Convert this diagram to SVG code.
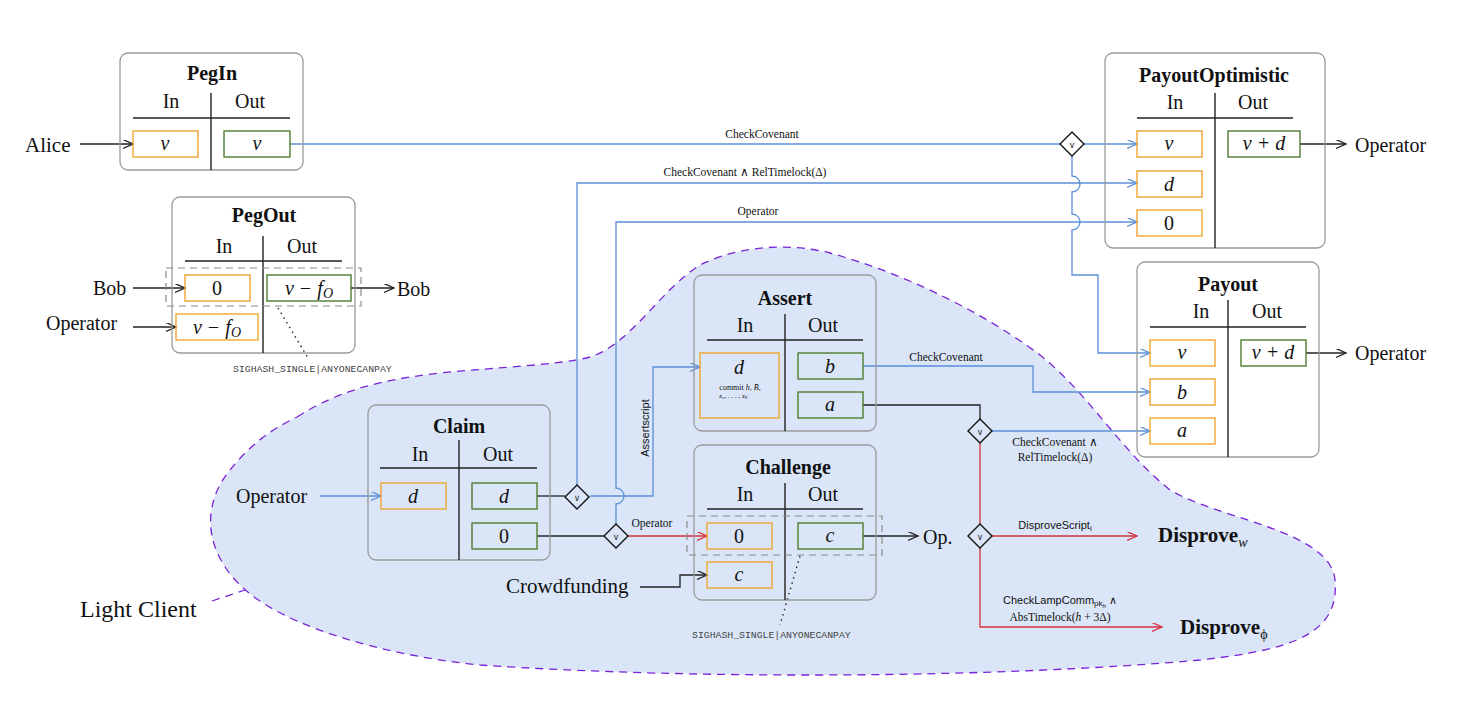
<svg xmlns="http://www.w3.org/2000/svg" width="1482" height="712" viewBox="0 0 1482 712">
<defs>
<style>
.box{fill:none;stroke:#9a9a9a;stroke-width:1.3}
.sep{stroke:#222;stroke-width:1.4;fill:none}
.in{fill:none;stroke:#f0a530;stroke-width:1.4}
.out{fill:none;stroke:#4e7d2e;stroke-width:1.4}
.dash{fill:none;stroke:#8a8a8a;stroke-width:1.2;stroke-dasharray:7 5}
.t{font-family:"Liberation Serif",serif;fill:#111}
.title{font-family:"Liberation Serif",serif;font-weight:bold;font-size:20px;text-anchor:middle;fill:#111}
.hd{font-family:"Liberation Serif",serif;font-size:20px;text-anchor:middle;fill:#111}
.m{font-family:"Liberation Serif",serif;font-style:italic;font-size:20px;text-anchor:middle;fill:#111}
.n{font-family:"Liberation Serif",serif;font-size:20px;text-anchor:middle;fill:#111}
.lbl{font-family:"Liberation Serif",serif;font-size:20px;fill:#111}
.sm{font-family:"Liberation Serif",serif;font-size:11.5px;text-anchor:middle;fill:#111}
.ss{font-family:"Liberation Sans",sans-serif;font-size:11px;text-anchor:middle;fill:#111}
.mono{font-family:"Liberation Mono",monospace;font-size:9.8px;fill:#444}
.cb{fill:none;stroke:#5b8fd8;stroke-width:1.3}
.ck{fill:none;stroke:#222;stroke-width:1.3}
.cr{fill:none;stroke:#d8303e;stroke-width:1.3}
.dia{fill:none;stroke:#111;stroke-width:1.4}
.or{font-family:"DejaVu Sans",sans-serif;font-size:9px;text-anchor:middle;fill:#333}
</style>
<marker id="ab" markerWidth="12" markerHeight="10" refX="10" refY="4.5" orient="auto" markerUnits="userSpaceOnUse"><path d="M0,0 L10,4.5 L0,9" fill="none" stroke="#5b8fd8" stroke-width="1.3"/></marker>
<marker id="ak" markerWidth="12" markerHeight="10" refX="10" refY="4.5" orient="auto" markerUnits="userSpaceOnUse"><path d="M0,0 L10,4.5 L0,9" fill="none" stroke="#222" stroke-width="1.3"/></marker>
<marker id="ar" markerWidth="12" markerHeight="10" refX="10" refY="4.5" orient="auto" markerUnits="userSpaceOnUse"><path d="M0,0 L10,4.5 L0,9" fill="none" stroke="#d8303e" stroke-width="1.3"/></marker>
</defs>
<rect width="1482" height="712" fill="#ffffff"/>

<g id="lightclient">
<path d="M297 417 C340 390 380 380 440 373 C500 367 560 365 590 357 C630 345 660 290 700 265 C740 245 790 243 830 253 C900 272 980 310 1040 355 C1090 395 1120 450 1170 490 C1220 520 1330 530 1335 580 C1340 635 1290 650 1200 660 C1000 678 700 680 480 665 C380 655 280 625 240 585 C200 545 205 500 230 470 C250 445 270 430 297 417 Z" fill="#dae6f7" stroke="#7a22d8" stroke-width="1.3" stroke-dasharray="8 6"/>
<path d="M212 601 L245 590" fill="none" stroke="#7a22d8" stroke-width="1.3" stroke-dasharray="8 6"/>
<text class="lbl" x="80" y="617" style="font-size:24px">Light Client</text>
</g>

<g id="connectors">
<path class="ck" d="M80 144 H133" marker-end="url(#ak)"/>
<path class="ck" d="M133 288 H185" marker-end="url(#ak)"/>
<path class="ck" d="M133 327 H176" marker-end="url(#ak)"/>
<path class="ck" d="M351 288 H394" marker-end="url(#ak)"/>
<path class="cb" d="M290 144 H1060"/>
<path class="cb" d="M1084 144 H1137" marker-end="url(#ab)"/>
<path class="cb" d="M1072 156 V176 A8 8 0 0 1 1072 192 V214 A8 8 0 0 1 1072 230 V275 H1098 V353 H1150" marker-end="url(#ab)"/>
<path class="cb" d="M577 485 V183 H1137" marker-end="url(#ab)"/>
<path class="cb" d="M590 496 H653 V367 H700" marker-end="url(#ab)"/>
<path class="cb" d="M616 524 V504 A8 8 0 0 0 616 488 V222 H1137" marker-end="url(#ab)"/>
<path class="ck" d="M537 496 H565"/>
<path class="ck" d="M537 536 H604"/>
<path class="cr" d="M628 536 H707" marker-end="url(#ar)"/>
<path class="cb" d="M320 496 H381" marker-end="url(#ab)"/>
<path class="ck" d="M640 587 H680 V575 H707" marker-end="url(#ak)"/>
<path class="cb" d="M863 366 H1033 V392 H1150" marker-end="url(#ab)"/>
<path class="ck" d="M863 405 H980 V419"/>
<path class="cb" d="M992 431 H1150" marker-end="url(#ab)"/>
<path class="cr" d="M980 443 V524"/>
<path class="cr" d="M992 536 H1137" marker-end="url(#ar)"/>
<path class="cr" d="M980 548 V627 H1162" marker-end="url(#ar)"/>
<path class="ck" d="M863 536 H918" marker-end="url(#ak)"/>
<path class="ck" d="M1300 144 H1346" marker-end="url(#ak)"/>
<path class="ck" d="M1306 353 H1346" marker-end="url(#ak)"/>
<path d="M278 308 L308 358" fill="none" stroke="#222" stroke-width="1.4" stroke-dasharray="1.5 4"/>
<path d="M800 556 L780 625" fill="none" stroke="#222" stroke-width="1.4" stroke-dasharray="1.5 4"/>
<text class="sm" x="762" y="138">CheckCovenant</text>
<text class="sm" x="745" y="176">CheckCovenant ∧ RelTimelock(Δ)</text>
<text class="sm" x="758" y="215">Operator</text>
<text class="sm" x="652" y="527">Operator</text>
<text class="ss" x="0" y="0" transform="translate(649 428) rotate(-90)">Assertscript</text>
<text class="sm" x="946" y="361">CheckCovenant</text>
<text class="sm" x="1055" y="446">CheckCovenant ∧</text>
<text class="sm" x="1055" y="461">RelTimelock(Δ)</text>
<text class="ss" x="1055" y="529">DisproveScript<tspan font-size="8" dy="2">i</tspan></text>
<text class="ss" x="1060" y="604">CheckLampComm<tspan font-size="8" dy="2">pk</tspan><tspan font-size="6" dy="1.5" font-style="italic">h</tspan><tspan dy="-3.5"> ∧</tspan></text>
<text class="sm" x="1060" y="621">AbsTimelock(<tspan font-style="italic">h</tspan> + 3Δ)</text>
<text class="mono" x="233" y="372">SIGHASH_SINGLE|ANYONECANPAY</text>
<text class="mono" x="692" y="638">SIGHASH_SINGLE|ANYONECANPAY</text>
</g>

<g id="diamonds">
<path class="dia" d="M1072 132 L1084 144 L1072 156 L1060 144 Z"/><text class="or" x="1072" y="147.5">∨</text>
<path class="dia" d="M577 485 L589 497 L577 509 L565 497 Z"/><text class="or" x="577" y="500.5">∨</text>
<path class="dia" d="M616 524 L628 536 L616 548 L604 536 Z"/><text class="or" x="616" y="539.5">∨</text>
<path class="dia" d="M980 419 L992 431 L980 443 L968 431 Z"/><text class="or" x="980" y="434.5">∨</text>
<path class="dia" d="M980 524 L992 536 L980 548 L968 536 Z"/><text class="or" x="980" y="539.5">∨</text>
</g>

<g id="externals">
<text class="lbl" x="25" y="152" style="font-size:21px">Alice</text>
<text class="lbl" x="93" y="295">Bob</text>
<text class="lbl" x="46" y="330">Operator</text>
<text class="lbl" x="397" y="296">Bob</text>
<text class="lbl" x="1355" y="152">Operator</text>
<text class="lbl" x="1355" y="360">Operator</text>
<text class="lbl" x="236" y="503">Operator</text>
<text class="lbl" x="506" y="593" style="font-size:21px">Crowdfunding</text>
<text class="lbl" x="923" y="544">Op.</text>
<text class="t" x="1158" y="542" style="font-size:21px;font-weight:bold">Disprove<tspan font-size="14" font-style="italic" font-weight="normal" dy="5">w</tspan></text>
<text class="t" x="1180" y="634" style="font-size:21px;font-weight:bold">Disprove<tspan font-size="14" font-weight="normal" dy="5">ϕ</tspan></text>
</g>

<g id="pegin">
<rect class="box" x="120" y="53" width="183" height="117" rx="8"/>
<text class="title" x="212" y="80">PegIn</text>
<text class="hd" x="171" y="108">In</text><text class="hd" x="250" y="108">Out</text>
<path class="sep" d="M133 118 H290 M211 93 V170"/>
<rect class="in" x="133" y="131" width="65" height="26"/><text class="m" x="165" y="150">v</text>
<rect class="out" x="224" y="131" width="66" height="26"/><text class="m" x="257" y="150">v</text>
</g>

<g id="pegout">
<rect class="box" x="172" y="197" width="183" height="156" rx="8"/>
<text class="title" x="264" y="222">PegOut</text>
<text class="hd" x="224" y="253">In</text><text class="hd" x="302" y="253">Out</text>
<path class="sep" d="M185 261 H342 M263 236 V353"/>
<rect class="dash" x="166" y="268" width="195" height="38"/>
<rect class="in" x="185" y="275" width="65" height="26"/><text class="n" x="217" y="295">0</text>
<rect class="out" x="267" y="275" width="84" height="26"/><text class="m" x="309" y="295">v − f<tspan font-size="14" dy="3">O</tspan></text>
<rect class="in" x="176" y="314" width="82" height="26"/><text class="m" x="217" y="334">v − f<tspan font-size="14" dy="3">O</tspan></text>
</g>

<g id="payoutoptimistic">
<rect class="box" x="1105" y="53" width="220" height="195" rx="8"/>
<text class="title" x="1214" y="82">PayoutOptimistic</text>
<text class="hd" x="1175" y="109">In</text><text class="hd" x="1253" y="109">Out</text>
<path class="sep" d="M1137 118 H1293 M1215 93 V248"/>
<rect class="in" x="1137" y="131" width="65" height="26"/><text class="m" x="1169" y="150">v</text>
<rect class="in" x="1137" y="171" width="65" height="26"/><text class="m" x="1169" y="191">d</text>
<rect class="in" x="1137" y="210" width="65" height="26"/><text class="n" x="1169" y="230">0</text>
<rect class="out" x="1228" y="131" width="72" height="26"/><text class="m" x="1264" y="150">v + d</text>
</g>

<g id="payout">
<rect class="box" x="1137" y="262" width="182" height="195" rx="8"/>
<text class="title" x="1228" y="291">Payout</text>
<text class="hd" x="1201" y="318">In</text><text class="hd" x="1267" y="318">Out</text>
<path class="sep" d="M1150 327 H1306 M1228 300 V457"/>
<rect class="in" x="1150" y="340" width="65" height="26"/><text class="m" x="1182" y="359">v</text>
<rect class="in" x="1150" y="379" width="65" height="26"/><text class="m" x="1182" y="399">b</text>
<rect class="in" x="1150" y="418" width="65" height="26"/><text class="m" x="1182" y="437">a</text>
<rect class="out" x="1241" y="340" width="65" height="26"/><text class="m" x="1273" y="359">v + d</text>
</g>

<g id="assert">
<rect class="box" x="694" y="275" width="182" height="156" rx="8"/>
<text class="title" x="785" y="305">Assert</text>
<text class="hd" x="745" y="332">In</text><text class="hd" x="823" y="332">Out</text>
<path class="sep" d="M707 340 H863 M785 314 V431"/>
<rect class="in" x="700" y="353" width="79" height="65"/>
<text class="m" x="739" y="374">d</text>
<text class="t" x="740" y="390" style="font-size:8px;text-anchor:middle">commit <tspan font-style="italic">h</tspan>, <tspan font-style="italic">B̄</tspan>,</text>
<text class="t" x="733" y="398" style="font-size:7px;text-anchor:middle">z₀, . . . , z<tspan font-style="italic">ₖ</tspan></text>
<rect class="out" x="798" y="353" width="65" height="26"/><text class="m" x="830" y="373">b</text>
<rect class="out" x="798" y="392" width="65" height="26"/><text class="m" x="830" y="411">a</text>
</g>

<g id="claim">
<rect class="box" x="368" y="405" width="182" height="155" rx="8"/>
<text class="title" x="459" y="433">Claim</text>
<text class="hd" x="420" y="461">In</text><text class="hd" x="498" y="461">Out</text>
<path class="sep" d="M380 468 H537 M459 440 V560"/>
<rect class="in" x="381" y="483" width="65" height="26"/><text class="m" x="413" y="503">d</text>
<rect class="out" x="472" y="483" width="65" height="26"/><text class="m" x="504" y="503">d</text>
<rect class="out" x="472" y="523" width="65" height="26"/><text class="n" x="504" y="543">0</text>
</g>

<g id="challenge">
<rect class="box" x="694" y="445" width="182" height="155" rx="8"/>
<text class="title" x="788" y="474">Challenge</text>
<text class="hd" x="745" y="501">In</text><text class="hd" x="823" y="501">Out</text>
<path class="sep" d="M707 509 H863 M785 483 V600"/>
<rect class="dash" x="687" y="516" width="195" height="39"/>
<rect class="in" x="707" y="523" width="65" height="26"/><text class="n" x="739" y="543">0</text>
<rect class="out" x="798" y="523" width="65" height="26"/><text class="m" x="830" y="542">c</text>
<rect class="in" x="707" y="562" width="65" height="26"/><text class="m" x="739" y="581">c</text>
</g>
</svg>
